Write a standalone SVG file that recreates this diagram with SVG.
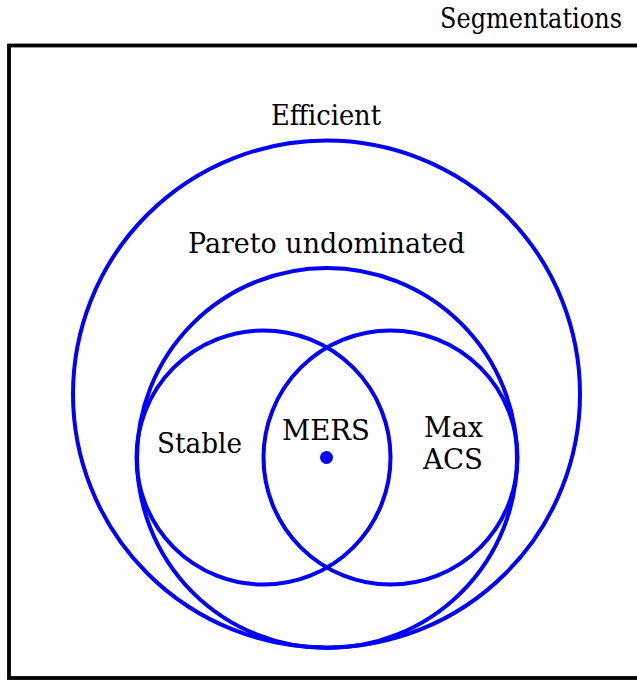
<svg xmlns="http://www.w3.org/2000/svg" width="637" height="681" viewBox="0 0 637 681">
<style>
.c{fill:none;stroke:#0000ff;stroke-width:4}
.t{font-family:"DejaVu Serif","Liberation Serif",serif;font-size:28px;fill:#000}
</style>
<rect width="637" height="681" fill="#fff"/>
<g id="segmentations">
<rect x="9" y="45.5" width="640" height="632.5" fill="none" stroke="#000" stroke-width="3.8"/>
<text class="t" x="440" y="28" textLength="182" lengthAdjust="spacingAndGlyphs">Segmentations</text>
</g>
<g id="efficient">
<circle class="c" cx="326.5" cy="394" r="253.5"/>
<text class="t" x="271" y="125" textLength="110" lengthAdjust="spacingAndGlyphs">Efficient</text>
</g>
<g id="pareto">
<circle class="c" cx="327" cy="458" r="190"/>
<text class="t" x="188" y="253" textLength="277" lengthAdjust="spacingAndGlyphs">Pareto undominated</text>
</g>
<g id="stable">
<circle class="c" cx="263.5" cy="457.5" r="127"/>
<text class="t" x="157" y="453" textLength="85" lengthAdjust="spacingAndGlyphs">Stable</text>
</g>
<g id="maxacs">
<circle class="c" cx="390.5" cy="457.5" r="127"/>
<text class="t" x="424" y="437" textLength="59" lengthAdjust="spacingAndGlyphs">Max</text>
<text class="t" x="423" y="469" textLength="60" lengthAdjust="spacingAndGlyphs">ACS</text>
</g>
<g id="mers">
<circle cx="326.5" cy="457.5" r="6.5" fill="#0000ff"/>
<text class="t" x="282" y="440" textLength="88" lengthAdjust="spacingAndGlyphs">MERS</text>
</g>
<g id="connectors"/>
</svg>
